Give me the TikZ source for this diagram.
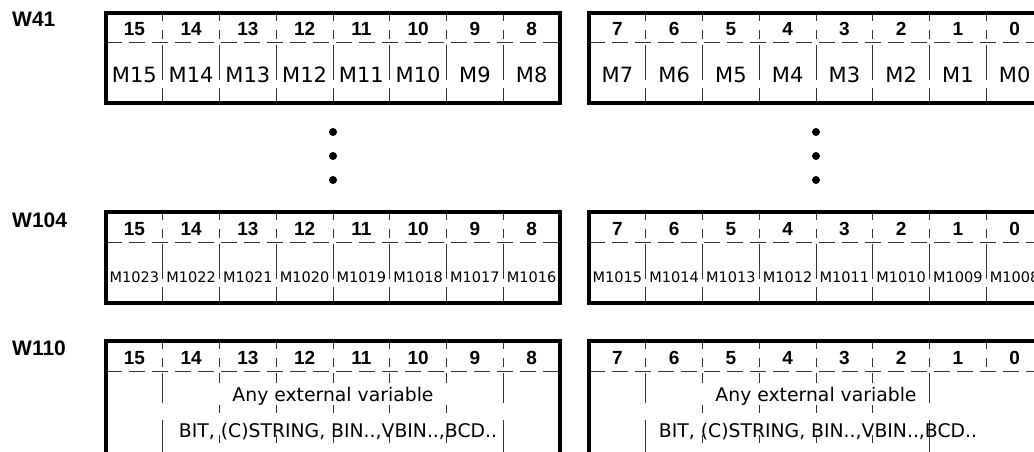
\documentclass[tikz,border=0pt]{standalone}
\usepackage{fontspec}
\setmainfont{DejaVu Sans}
\newfontfamily\hdrfont{Liberation Sans}
\begin{document}
\begin{tikzpicture}
% Word / bit layout of the marker area
\providecommand{\wordFrameColor}{black}
\providecommand{\wordGridColor}{black!80}
\providecommand{\wordFrameWidth}{4pt}
\providecommand{\wordGridWidth}{1pt}
\tikzset{
  frame/.style={draw=\wordFrameColor, line width=\wordFrameWidth, line join=miter},
  hdrsep/.style={draw=\wordGridColor, line width=\wordGridWidth, dash pattern=on 16pt off 7pt},
  bitdiv/.style={draw=\wordGridColor, line width=\wordGridWidth, dash pattern=on 8pt off 9pt on 9pt off 6pt on 35pt off 8pt on 14pt off 20pt},
  vardiv/.style={draw=\wordGridColor, line width=\wordGridWidth, dash pattern=on 8pt off 9pt on 9pt off 6pt on 30pt off 17pt on 60pt off 10pt},
  varsep/.style={draw=\wordGridColor, line width=\wordGridWidth, dash pattern=on 8pt off 9pt on 9pt off 6pt on 10pt off 22pt on 8pt off 22pt on 8pt off 30pt},
  wordlabel/.style={anchor=base west, inner sep=0pt, font=\hdrfont\bfseries\fontsize{21}{24}\selectfont},
  bitno/.style={anchor=base, inner sep=0pt, font=\hdrfont\bfseries\fontsize{19}{22}\selectfont},
  marker/.style={anchor=base, inner sep=0pt, font=\fontsize{21}{24}\selectfont},
  smallmarker/.style={anchor=base, inner sep=0pt, font=\fontsize{14.5}{16}\selectfont},
  vartext/.style={anchor=base, inner sep=0pt, font=\fontsize{18.8}{22}\selectfont},
  dot/.style={circle, fill=black, inner sep=0pt, minimum size=8pt},
}
\begin{scope}[x=1pt, y=-1pt]
  \useasboundingbox (0,0) rectangle (1034,452);
  \clip (0,0) rectangle (1034,452);
  % Word names
  \node[wordlabel] (w41) at (12,27) {W41};
  \node[wordlabel] (w104) at (12,227) {W104};
  \node[wordlabel] (w110) at (12,355) {W110};
  % ---- W41 ----
  \begin{scope}
    \draw[bitdiv] (162.75,13) -- (162.75,103);
    \draw[bitdiv] (219.5,13) -- (219.5,103);
    \draw[bitdiv] (276.25,13) -- (276.25,103);
    \draw[bitdiv] (333,13) -- (333,103);
    \draw[bitdiv] (389.75,13) -- (389.75,103);
    \draw[bitdiv] (446.5,13) -- (446.5,103);
    \draw[bitdiv] (503.25,13) -- (503.25,103);
    \draw[bitdiv] (645.75,13) -- (645.75,103);
    \draw[bitdiv] (702.5,13) -- (702.5,103);
    \draw[bitdiv] (759.25,13) -- (759.25,103);
    \draw[bitdiv] (816,13) -- (816,103);
    \draw[bitdiv] (872.75,13) -- (872.75,103);
    \draw[bitdiv] (929.5,13) -- (929.5,103);
    \draw[bitdiv] (986.25,13) -- (986.25,103);
    \draw[hdrsep] (106,43) -- (560,43);
    \draw[hdrsep] (589,43) -- (1043,43);
    \draw[frame] (106,13) rectangle (560,103);
    \draw[frame] (589,13) rectangle (1043,103);
  \end{scope}
  \node[bitno] (a15) at (134.375,36) {15};
  \node[bitno] (a14) at (191.125,36) {14};
  \node[bitno] (a13) at (247.875,36) {13};
  \node[bitno] (a12) at (304.625,36) {12};
  \node[bitno] (a11) at (361.375,36) {11};
  \node[bitno] (a10) at (418.125,36) {10};
  \node[bitno] (a9) at (474.875,36) {9};
  \node[bitno] (a8) at (531.625,36) {8};
  \node[bitno] (a7) at (617.375,36) {7};
  \node[bitno] (a6) at (674.125,36) {6};
  \node[bitno] (a5) at (730.875,36) {5};
  \node[bitno] (a4) at (787.625,36) {4};
  \node[bitno] (a3) at (844.375,36) {3};
  \node[bitno] (a2) at (901.125,36) {2};
  \node[bitno] (a1) at (957.875,36) {1};
  \node[bitno] (a0) at (1014.625,36) {0};
  \node[marker] (m15) at (134.375,83) {M15};
  \node[marker] (m14) at (191.125,83) {M14};
  \node[marker] (m13) at (247.875,83) {M13};
  \node[marker] (m12) at (304.625,83) {M12};
  \node[marker] (m11) at (361.375,83) {M11};
  \node[marker] (m10) at (418.125,83) {M10};
  \node[marker] (m9) at (474.875,83) {M9};
  \node[marker] (m8) at (531.625,83) {M8};
  \node[marker] (m7) at (617.375,83) {M7};
  \node[marker] (m6) at (674.125,83) {M6};
  \node[marker] (m5) at (730.875,83) {M5};
  \node[marker] (m4) at (787.625,83) {M4};
  \node[marker] (m3) at (844.375,83) {M3};
  \node[marker] (m2) at (901.125,83) {M2};
  \node[marker] (m1) at (957.875,83) {M1};
  \node[marker] (m0) at (1014.625,83) {M0};
  % ---- skipped words ----
  \node[dot] (dotl1) at (333,132) {};
  \node[dot] (dotl2) at (333,156) {};
  \node[dot] (dotl3) at (333,180) {};
  \node[dot] (dotr1) at (816,132) {};
  \node[dot] (dotr2) at (816,156) {};
  \node[dot] (dotr3) at (816,180) {};
  % ---- W104 ----
  \begin{scope}
    \draw[bitdiv] (162.75,212) -- (162.75,303);
    \draw[bitdiv] (219.5,212) -- (219.5,303);
    \draw[bitdiv] (276.25,212) -- (276.25,303);
    \draw[bitdiv] (333,212) -- (333,303);
    \draw[bitdiv] (389.75,212) -- (389.75,303);
    \draw[bitdiv] (446.5,212) -- (446.5,303);
    \draw[bitdiv] (503.25,212) -- (503.25,303);
    \draw[bitdiv] (645.75,212) -- (645.75,303);
    \draw[bitdiv] (702.5,212) -- (702.5,303);
    \draw[bitdiv] (759.25,212) -- (759.25,303);
    \draw[bitdiv] (816,212) -- (816,303);
    \draw[bitdiv] (872.75,212) -- (872.75,303);
    \draw[bitdiv] (929.5,212) -- (929.5,303);
    \draw[bitdiv] (986.25,212) -- (986.25,303);
    \draw[hdrsep] (106,242) -- (560,242);
    \draw[hdrsep] (589,242) -- (1043,242);
    \draw[frame] (106,212) rectangle (560,303);
    \draw[frame] (589,212) rectangle (1043,303);
  \end{scope}
  \node[bitno] (b15) at (134.375,235) {15};
  \node[bitno] (b14) at (191.125,235) {14};
  \node[bitno] (b13) at (247.875,235) {13};
  \node[bitno] (b12) at (304.625,235) {12};
  \node[bitno] (b11) at (361.375,235) {11};
  \node[bitno] (b10) at (418.125,235) {10};
  \node[bitno] (b9) at (474.875,235) {9};
  \node[bitno] (b8) at (531.625,235) {8};
  \node[bitno] (b7) at (617.375,235) {7};
  \node[bitno] (b6) at (674.125,235) {6};
  \node[bitno] (b5) at (730.875,235) {5};
  \node[bitno] (b4) at (787.625,235) {4};
  \node[bitno] (b3) at (844.375,235) {3};
  \node[bitno] (b2) at (901.125,235) {2};
  \node[bitno] (b1) at (957.875,235) {1};
  \node[bitno] (b0) at (1014.625,235) {0};
  \node[smallmarker] (m1023) at (134.375,282) {M1023};
  \node[smallmarker] (m1022) at (191.125,282) {M1022};
  \node[smallmarker] (m1021) at (247.875,282) {M1021};
  \node[smallmarker] (m1020) at (304.625,282) {M1020};
  \node[smallmarker] (m1019) at (361.375,282) {M1019};
  \node[smallmarker] (m1018) at (418.125,282) {M1018};
  \node[smallmarker] (m1017) at (474.875,282) {M1017};
  \node[smallmarker] (m1016) at (531.625,282) {M1016};
  \node[smallmarker] (m1015) at (617.375,282) {M1015};
  \node[smallmarker] (m1014) at (674.125,282) {M1014};
  \node[smallmarker] (m1013) at (730.875,282) {M1013};
  \node[smallmarker] (m1012) at (787.625,282) {M1012};
  \node[smallmarker] (m1011) at (844.375,282) {M1011};
  \node[smallmarker] (m1010) at (901.125,282) {M1010};
  \node[smallmarker] (m1009) at (957.875,282) {M1009};
  \node[smallmarker] (m1008) at (1014.625,282) {M1008};
  % ---- W110 ----
  \begin{scope}
    \draw[vardiv] (162.75,341) -- (162.75,470);
    \draw[varsep] (219.5,341) -- (219.5,470);
    \draw[varsep] (276.25,341) -- (276.25,470);
    \draw[varsep] (333,341) -- (333,470);
    \draw[varsep] (389.75,341) -- (389.75,470);
    \draw[varsep] (446.5,341) -- (446.5,470);
    \draw[vardiv] (503.25,341) -- (503.25,470);
    \draw[vardiv] (645.75,341) -- (645.75,470);
    \draw[varsep] (702.5,341) -- (702.5,470);
    \draw[varsep] (759.25,341) -- (759.25,470);
    \draw[varsep] (816,341) -- (816,470);
    \draw[varsep] (872.75,341) -- (872.75,470);
    \draw[vardiv] (929.5,341) -- (929.5,470);
    \draw[bitdiv] (986.25,341) -- (986.25,371);
    \draw[hdrsep] (106,371) -- (560,371);
    \draw[hdrsep] (589,371) -- (1043,371);
    \draw[frame] (106,341) rectangle (560,470);
    \draw[frame] (589,341) rectangle (1043,470);
  \end{scope}
  \node[bitno] (c15) at (134.375,364) {15};
  \node[bitno] (c14) at (191.125,364) {14};
  \node[bitno] (c13) at (247.875,364) {13};
  \node[bitno] (c12) at (304.625,364) {12};
  \node[bitno] (c11) at (361.375,364) {11};
  \node[bitno] (c10) at (418.125,364) {10};
  \node[bitno] (c9) at (474.875,364) {9};
  \node[bitno] (c8) at (531.625,364) {8};
  \node[bitno] (c7) at (617.375,364) {7};
  \node[bitno] (c6) at (674.125,364) {6};
  \node[bitno] (c5) at (730.875,364) {5};
  \node[bitno] (c4) at (787.625,364) {4};
  \node[bitno] (c3) at (844.375,364) {3};
  \node[bitno] (c2) at (901.125,364) {2};
  \node[bitno] (c1) at (957.875,364) {1};
  \node[bitno] (c0) at (1014.625,364) {0};
  \node[vartext] (anyl) at (333,401) {Any external variable};
  \node[vartext] (typesl) at (338,437) {BIT, (C)STRING, BIN..,VBIN..,BCD..};
  \node[vartext] (anyr) at (816,401) {Any external variable};
  \node[vartext] (typesr) at (818,437) {BIT, (C)STRING, BIN..,VBIN..,BCD..};
\end{scope}
\end{tikzpicture}
\end{document}
